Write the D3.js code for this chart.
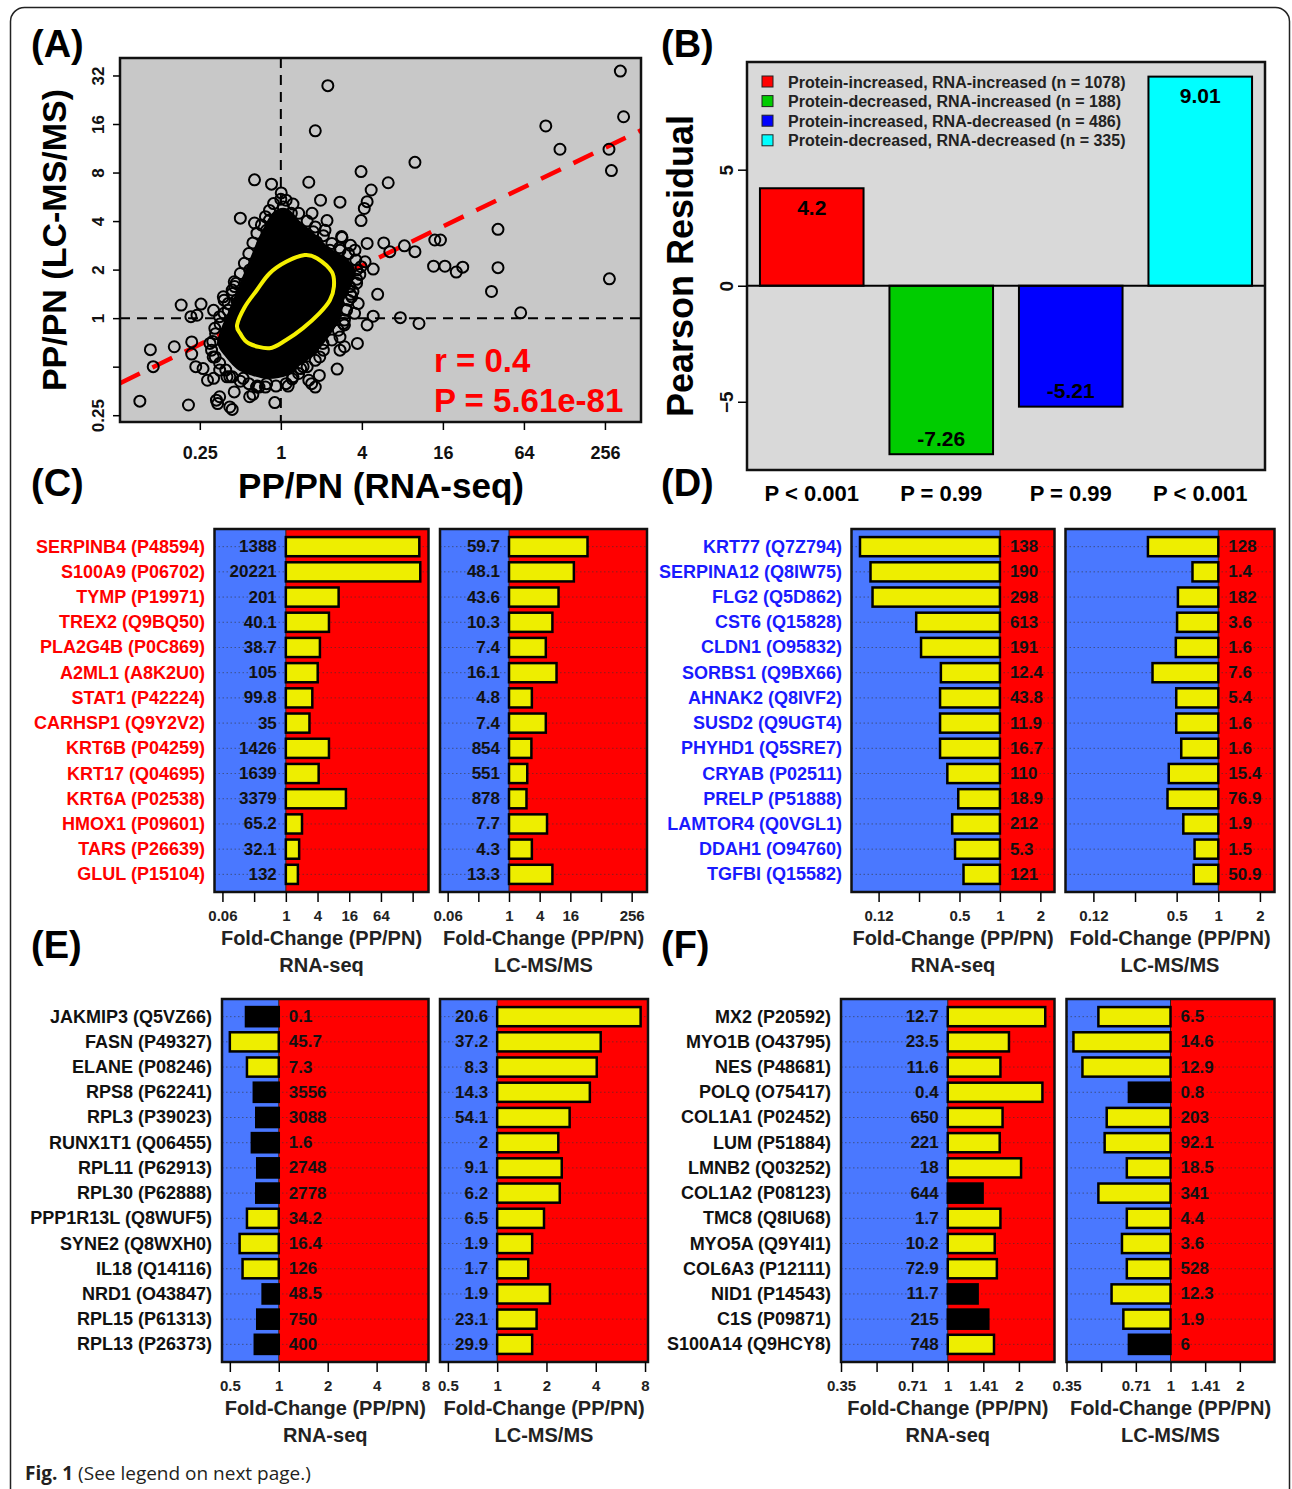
<!DOCTYPE html>
<html>
<head>
<meta charset="utf-8">
<script src="https://cdn.jsdelivr.net/npm/d3@7"></script>
<style>
  body { margin: 0; background: #fff; }
  svg text { font-family: "Liberation Sans", Arial, sans-serif; }
</style>
</head>
<body>
<svg id="fig" width="1292" height="1489"></svg>
<script>
// ---------- (A) scatter, all values are log2(PP/PN) ----------
// [RNA-seq, LC-MS/MS]
const scatterPoints = [
  [8.38,5.09],[1.16,4.79],[8.46,4.15],[0.85,3.86],[6.54,3.96],[6.89,3.48],[8.10,3.48],[8.16,3.04],
  [3.31,3.21],[1.98,3.02],[2.65,2.79],[-0.65,2.85],[-0.23,2.76],[0.69,2.80],[0.01,2.58],[2.23,2.64],
  [0.98,2.43],[1.46,2.39],[2.13,2.40],[2.06,2.26],[1.98,2.01],[0.77,2.16],[1.14,2.01],[-1.00,2.06],
  [-0.65,1.96],[-0.28,2.02],[5.36,1.83],[8.11,0.81],[5.36,1.04],[5.20,0.55],[5.92,0.11],[3.77,1.07],
  [4.05,1.07],[4.33,0.95],[4.49,1.05],[3.80,1.61],[3.94,1.61],[3.31,1.37],[3.05,1.49],[2.69,1.37],
  [2.54,1.55],[2.13,1.54],[1.51,1.66],[1.72,1.50],[2.08,1.16],[2.28,1.01],[1.87,0.80],[2.39,0.49],
  [1.72,0.49],[2.28,0.04],[2.95,0.01],[3.41,-0.11],[2.13,-0.14],[1.82,0.10],[1.57,-0.14],[1.89,-0.52],
  [1.57,-0.59],[1.39,-1.05],[0.95,-1.18],[0.85,-1.42],[0.18,-1.40],[-0.15,-1.74],[-1.20,-1.88],[-1.56,-1.76],
  [-1.51,-1.62],[-2.28,-1.79],[-3.48,-1.71],[-3.15,-1.00],[-3.22,-0.65],[-2.63,-0.59],[-2.20,-0.49],[-2.20,-0.74],
  [-2.10,-1.00],[-1.92,-1.04],[-1.81,-1.28],[-1.66,-1.24],[-1.33,-1.21],[-1.15,-1.52],[-0.69,-1.57],[-0.54,-1.42],
  [0.49,-1.04],[0.69,-1.28],[-2.46,0.27],[-1.97,0.29],[-2.22,0.03],[-2.07,0.06],[-1.66,0.16],[-1.40,0.37],
  [-1.15,0.75],[-1.20,0.58],[0.06,2.29],[0.26,2.16],[0.39,1.88],[0.80,1.78],[0.88,1.57],[1.21,1.40],
  [1.54,1.13],[1.87,0.99],[1.70,0.65],[1.75,0.44],[1.62,0.16],[1.54,-0.11],[1.46,-0.39],[1.04,-0.52],
  [0.96,-0.80],[0.55,-1.00],[0.30,-1.21],[-0.35,-1.35],[-0.60,-1.42],[-0.93,-1.24],[-1.26,-1.21],[-1.51,-1.07],
  [-1.67,-0.80],[-1.75,-0.52],[-1.63,-0.21],[-1.51,0.03],[-1.30,0.16],[-1.09,0.37],[-0.77,0.99],[-0.52,1.23],
  [-0.44,1.55],[-0.35,1.81],[-0.77,-1.62],[-1.26,-1.83],[-1.59,-1.69],[-1.42,0.44],[-1.14,0.65],[1.46,1.40],
  [1.83,1.40],[1.91,0.30],[1.46,-0.66],[0.76,-1.35],[1.09,1.81],[1.50,1.68],
  // circles along the edge of the overplotted core
  [0.13,2.43],[0.44,2.16],[0.85,1.88],[1.26,1.54],[1.67,1.33],[1.98,1.06],[1.87,0.72],[1.67,0.37],
  [1.57,-0.04],[1.26,-0.45],[0.85,-0.87],[0.44,-1.14],[0.13,-1.35],[-0.38,-1.42],[-0.79,-1.35],[-1.20,-1.21],
  [-1.51,-0.93],[-1.71,-0.66],[-1.61,-0.32],[-1.40,0.10],[-1.20,0.51],[-1.00,0.92],[-0.79,1.33],[-0.59,1.75],
  [-0.38,2.09],[-0.18,2.36],[0.30,2.35],[0.65,2.00],[1.05,1.70],[1.45,1.45],[1.85,1.20],[1.95,0.90],
  [1.78,0.55],[1.62,0.18],[1.42,-0.25],[1.05,-0.66],[0.65,-1.00],[0.28,-1.25],[-0.12,-1.40],[-0.58,-1.40],
  [-1.00,-1.30],[-1.36,-1.07],[-1.62,-0.80],[-1.68,-0.48],[-1.50,-0.12],[-1.30,0.30],[-1.10,0.72],[-0.90,1.13],
  [-0.69,1.55],[-0.48,1.92],[-0.28,2.22],[0.00,2.45]
];
// outline of the solid overplotted core
const denseCore = [
  [0.13,2.20],[0.41,1.96],[0.77,1.71],[1.13,1.42],[1.49,1.23],[1.76,0.99],[1.66,0.69],[1.49,0.39],
  [1.40,0.02],[1.13,-0.34],[0.77,-0.71],[0.41,-0.94],[0.13,-1.13],[-0.32,-1.19],[-0.68,-1.13],[-1.04,-1.00],
  [-1.31,-0.76],[-1.49,-0.52],[-1.40,-0.22],[-1.21,0.15],[-1.04,0.51],[-0.86,0.87],[-0.68,1.23],[-0.50,1.60],
  [-0.32,1.90],[-0.14,2.14]
];
// yellow density contour
const contour = [
  [-1.08,-0.14],[-0.89,0.23],[-0.59,0.58],[-0.28,0.92],[0.13,1.16],[0.59,1.30],[0.90,1.23],[1.26,0.95],
  [1.31,0.65],[1.21,0.37],[0.95,0.10],[0.54,-0.21],[0.13,-0.45],[-0.28,-0.62],[-0.79,-0.52],[-1.00,-0.32]
];
const fitLine = [[-3.97,-1.34],[8.89,3.87]];
const statText = ['r = 0.4', 'P = 5.61e-81'];
const aXTicks = [-2, 0, 2, 4, 6, 8];
const aXTickLabels = ['0.25', '1', '4', '16', '64', '256'];
const aYTicks = [-2, -1, 0, 1, 2, 3, 4, 5];
const aYTickLabels = ['0.25', '', '1', '2', '4', '8', '16', '32'];

// ---------- (B) Pearson residuals ----------
const residualGroups = [
  'Protein-increased, RNA-increased (n = 1078)',
  'Protein-decreased, RNA-increased (n = 188)',
  'Protein-increased, RNA-decreased (n = 486)',
  'Protein-decreased, RNA-decreased (n = 335)'
];
const residualValues = [4.2, -7.26, -5.21, 9.01];
const residualColors = ['#ff0000', '#00cc00', '#0000ff', '#00ffff'];
const residualPValues = ['P < 0.001', 'P = 0.99', 'P = 0.99', 'P < 0.001'];
const bYTicks = [-5, 0, 5];

// ---------- (C) ----------
const cGenes = ['SERPINB4 (P48594)','S100A9 (P06702)','TYMP (P19971)','TREX2 (Q9BQ50)','PLA2G4B (P0C869)',
  'A2ML1 (A8K2U0)','STAT1 (P42224)','CARHSP1 (Q9Y2V2)','KRT6B (P04259)','KRT17 (Q04695)','KRT6A (P02538)',
  'HMOX1 (P09601)','TARS (P26639)','GLUL (P15104)'];
const cRnaLog2 = [8.42, 8.48, 3.33, 2.72, 2.15, 2.01, 1.67, 1.49, 2.72, 2.07, 3.79, 1.02, 0.84, 0.76];
const cRnaLabels = ['1388','20221','201','40.1','38.7','105','99.8','35','1426','1639','3379','65.2','32.1','132'];
const cMsLog2 = [5.12, 4.23, 3.23, 2.83, 2.40, 3.10, 1.49, 2.40, 1.46, 1.19, 1.14, 2.48, 1.49, 2.83];
const cMsLabels = ['59.7','48.1','43.6','10.3','7.4','16.1','4.8','7.4','854','551','878','7.7','4.3','13.3'];
const cTicks = [-4, -2, 0, 2, 4, 6, 8];
const cRnaTickLabels = ['0.06', '', '1', '4', '16', '64', ''];
const cMsTickLabels = ['0.06', '', '1', '4', '16', '', '256'];

// ---------- (D) ----------
const dGenes = ['KRT77 (Q7Z794)','SERPINA12 (Q8IW75)','FLG2 (Q5D862)','CST6 (Q15828)','CLDN1 (O95832)',
  'SORBS1 (Q9BX66)','AHNAK2 (Q8IVF2)','SUSD2 (Q9UGT4)','PHYHD1 (Q5SRE7)','CRYAB (P02511)','PRELP (P51888)',
  'LAMTOR4 (Q0VGL1)','DDAH1 (O94760)','TGFBI (Q15582)'];
const dRnaLog2 = [-3.46, -3.20, -3.15, -2.07, -1.95, -1.46, -1.48, -1.48, -1.48, -1.30, -1.03, -1.18, -1.11, -0.90];
const dRnaLabels = ['138','190','298','613','191','12.4','43.8','11.9','16.7','110','18.9','212','5.3','121'];
const dMsLog2 = [-1.69, -0.62, -0.97, -0.99, -1.02, -1.58, -1.01, -1.01, -0.89, -1.19, -1.22, -0.84, -0.57, -0.59];
const dMsLabels = ['128','1.4','182','3.6','1.6','7.6','5.4','1.6','1.6','15.4','76.9','1.9','1.5','50.9'];
const dTicks = [-3, -2, -1, 0, 1];
const dTickLabels = ['0.12', '', '0.5', '1', '2'];

// ---------- (E) ----------
const eGenes = ['JAKMIP3 (Q5VZ66)','FASN (P49327)','ELANE (P08246)','RPS8 (P62241)','RPL3 (P39023)',
  'RUNX1T1 (Q06455)','RPL11 (P62913)','RPL30 (P62888)','PPP1R13L (Q8WUF5)','SYNE2 (Q8WXH0)','IL18 (Q14116)',
  'NRD1 (O43847)','RPL15 (P61313)','RPL13 (P26373)'];
const eRnaLog2 = [-0.67, -1.00, -0.65, -0.51, -0.46, -0.55, -0.44, -0.46, -0.65, -0.80, -0.74, -0.33, -0.44, -0.49];
const eRnaSig = [0, 1, 1, 0, 0, 0, 0, 0, 1, 1, 1, 0, 0, 0];
const eRnaLabels = ['0.1','45.7','7.3','3556','3088','1.6','2748','2778','34.2','16.4','126','48.5','750','400'];
const eMsLog2 = [2.91, 2.10, 2.02, 1.88, 1.47, 1.24, 1.31, 1.27, 0.95, 0.71, 0.63, 1.07, 0.80, 0.71];
const eMsSig = [1, 1, 1, 1, 1, 1, 1, 1, 1, 1, 1, 1, 1, 1];
const eMsLabels = ['20.6','37.2','8.3','14.3','54.1','2','9.1','6.2','6.5','1.9','1.7','1.9','23.1','29.9'];
const eTicks = [-1, 0, 1, 2, 3];
const eTickLabels = ['0.5', '1', '2', '4', '8'];

// ---------- (F) ----------
const fGenes = ['MX2 (P20592)','MYO1B (O43795)','NES (P48681)','POLQ (O75417)','COL1A1 (P02452)',
  'LUM (P51884)','LMNB2 (Q03252)','COL1A2 (P08123)','TMC8 (Q8IU68)','MYO5A (Q9Y4I1)','COL6A3 (P12111)',
  'NID1 (P14543)','C1S (P09871)','S100A14 (Q9HCY8)'];
const fRnaLog2 = [1.37, 0.86, 0.74, 1.33, 0.77, 0.73, 1.03, 0.49, 0.74, 0.66, 0.69, 0.42, 0.57, 0.65];
const fRnaSig = [1, 1, 1, 1, 1, 1, 1, 0, 1, 1, 1, 0, 0, 1];
const fRnaLabels = ['12.7','23.5','11.6','0.4','650','221','18','644','1.7','10.2','72.9','11.7','215','748'];
const fMsLog2 = [-1.04, -1.40, -1.27, -0.60, -0.92, -0.95, -0.63, -1.04, -0.63, -0.70, -0.63, -0.85, -0.68, -0.60];
const fMsSig = [1, 1, 1, 0, 1, 1, 1, 1, 1, 1, 1, 1, 1, 0];
const fMsLabels = ['6.5','14.6','12.9','0.8','203','92.1','18.5','341','4.4','3.6','528','12.3','1.9','6'];
const fTicks = [-1.5, -1, -0.5, 0, 0.5, 1];
const fTickLabels = ['0.35', '', '0.71', '1', '1.41', '2'];

// colours
const blueBg = '#4a78ff';
const redBg = '#ff0000';
const barYellow = '#eeee00';

const svg = d3.select('#fig');

// outer frame
svg.append('rect')
  .attr('x', 10.5).attr('y', 7.5).attr('width', 1279).attr('height', 1530).attr('rx', 14)
  .attr('fill', 'none').attr('stroke', '#222').attr('stroke-width', 1.5);

// panel letters
[['(A)', 31, 44], ['(B)', 661, 44], ['(C)', 31, 483], ['(D)', 661, 483], ['(E)', 31, 945], ['(F)', 661, 945]]
  .forEach(([t, x, y]) => {
    svg.append('text').attr('x', x).attr('y', y).attr('dominant-baseline', 'central')
      .attr('font-size', 38).attr('font-weight', 'bold').text(t);
  });

// ================= panel A =================
function drawScatter() {
  const x = d3.scaleLinear().domain([-3.97, 8.89]).range([120, 641]);
  const y = d3.scaleLinear().domain([-2.14, 5.36]).range([422, 58]);
  const g = svg.append('g');

  g.append('clipPath').attr('id', 'clipA').append('rect')
    .attr('x', 120).attr('y', 58).attr('width', 521).attr('height', 364);
  g.append('rect').attr('x', 120).attr('y', 58).attr('width', 521).attr('height', 364).attr('fill', '#c8c8c8');

  const inner = g.append('g').attr('clip-path', 'url(#clipA)');
  // reference lines at fold-change 1
  inner.append('line').attr('x1', x(0)).attr('x2', x(0)).attr('y1', 58).attr('y2', 422)
    .attr('stroke', '#000').attr('stroke-width', 2).attr('stroke-dasharray', '10,7');
  inner.append('line').attr('x1', 120).attr('x2', 641).attr('y1', y(0)).attr('y2', y(0))
    .attr('stroke', '#000').attr('stroke-width', 2).attr('stroke-dasharray', '10,7');

  // regression line
  inner.append('path').datum(fitLine)
    .attr('d', d3.line().x(d => x(d[0])).y(d => y(d[1])))
    .attr('stroke', '#ff0000').attr('stroke-width', 4.5).attr('stroke-dasharray', '22,14').attr('fill', 'none');

  // dense core
  inner.append('path').datum(denseCore)
    .attr('d', d3.line().curve(d3.curveCardinalClosed).x(d => x(d[0])).y(d => y(d[1])))
    .attr('fill', '#000').attr('stroke', '#000').attr('stroke-width', 6).attr('stroke-linejoin', 'round');

  inner.selectAll('circle').data(scatterPoints).join('circle')
    .attr('cx', d => x(d[0])).attr('cy', d => y(d[1])).attr('r', 5.5)
    .attr('fill', 'none').attr('stroke', '#000').attr('stroke-width', 2);

  inner.append('path').datum(contour)
    .attr('d', d3.line().curve(d3.curveCardinalClosed).x(d => x(d[0])).y(d => y(d[1])))
    .attr('fill', 'none').attr('stroke', '#f5f000').attr('stroke-width', 4);

  g.append('rect').attr('x', 120).attr('y', 58).attr('width', 521).attr('height', 364)
    .attr('fill', 'none').attr('stroke', '#111').attr('stroke-width', 2.5);

  // axes
  const xAxis = g.append('g').attr('transform', 'translate(0,422)')
    .call(d3.axisBottom(x).tickValues(aXTicks).tickFormat((d, i) => aXTickLabels[i]).tickSize(8).tickPadding(16));
  xAxis.select('.domain').remove();
  xAxis.selectAll('line').attr('stroke-width', 1.5);
  xAxis.selectAll('text').attr('font-size', 18).attr('font-weight', 'bold').attr('fill', '#111');

  const yAxis = g.append('g').attr('transform', 'translate(120,0)')
    .call(d3.axisLeft(y).tickValues(aYTicks).tickFormat((d, i) => aYTickLabels[i]).tickSize(7));
  yAxis.select('.domain').remove();
  yAxis.selectAll('line').attr('stroke-width', 1.5);
  yAxis.selectAll('text').attr('transform', 'rotate(-90)').attr('x', 0).attr('y', -16).attr('dy', null)
    .attr('text-anchor', 'middle').attr('font-size', 17).attr('font-weight', 'bold').attr('fill', '#111');

  // statistics
  statText.forEach((t, i) => {
    g.append('text').attr('x', 434).attr('y', 372 + i * 40).attr('font-size', 33).attr('font-weight', 'bold')
      .attr('fill', '#ff0000').text(t);
  });

  // titles
  g.append('text').attr('x', 381).attr('y', 498).attr('text-anchor', 'middle')
    .attr('font-size', 35).attr('font-weight', 'bold').text('PP/PN (RNA-seq)');
  g.append('text').attr('transform', 'translate(66,240) rotate(-90)').attr('text-anchor', 'middle')
    .attr('font-size', 34).attr('font-weight', 'bold').text('PP/PN (LC-MS/MS)');
}

// ================= panel B =================
function drawResiduals() {
  const x = d3.scaleBand().domain(residualGroups).range([747, 1265]).paddingInner(0.2).paddingOuter(0.1);
  const y = d3.scaleLinear().domain([-7.94, 9.64]).range([470, 62]);
  const g = svg.append('g');

  g.append('rect').attr('x', 747).attr('y', 62).attr('width', 518).attr('height', 408).attr('fill', '#d9d9d9');

  g.selectAll('.bar').data(residualGroups).join('rect').attr('class', 'bar')
    .attr('x', d => x(d)).attr('width', x.bandwidth())
    .attr('y', (d, i) => y(Math.max(0, residualValues[i])))
    .attr('height', (d, i) => Math.abs(y(residualValues[i]) - y(0)))
    .attr('fill', (d, i) => residualColors[i]).attr('stroke', '#000').attr('stroke-width', 2);

  g.append('line').attr('x1', 747).attr('x2', 1265).attr('y1', y(0)).attr('y2', y(0))
    .attr('stroke', '#000').attr('stroke-width', 2);

  g.selectAll('.val').data(residualGroups).join('text').attr('class', 'val')
    .attr('x', d => x(d) + x.bandwidth() / 2)
    .attr('y', (d, i) => residualValues[i] > 0 ? y(residualValues[i]) + 19 : y(residualValues[i]) - 16)
    .attr('text-anchor', 'middle').attr('dominant-baseline', 'central')
    .attr('font-size', 21).attr('font-weight', 'bold').text((d, i) => residualValues[i]);

  g.selectAll('.pv').data(residualGroups).join('text').attr('class', 'pv')
    .attr('x', d => x(d) + x.bandwidth() / 2).attr('y', 493)
    .attr('text-anchor', 'middle').attr('dominant-baseline', 'central')
    .attr('font-size', 22).attr('font-weight', 'bold').text((d, i) => residualPValues[i]);

  // legend
  const leg = g.append('g');
  residualGroups.forEach((t, i) => {
    leg.append('rect').attr('x', 762).attr('y', 76 + i * 19.6).attr('width', 11).attr('height', 11)
      .attr('fill', residualColors[i]).attr('stroke', '#222').attr('stroke-width', 1);
    leg.append('text').attr('x', 788).attr('y', 82 + i * 19.6).attr('dominant-baseline', 'central')
      .attr('font-size', 16).attr('font-weight', 'bold').attr('fill', '#222').text(t);
  });

  g.append('rect').attr('x', 747).attr('y', 62).attr('width', 518).attr('height', 408)
    .attr('fill', 'none').attr('stroke', '#111').attr('stroke-width', 2.5);

  const yAxis = g.append('g').attr('transform', 'translate(747,0)')
    .call(d3.axisLeft(y).tickValues(bYTicks).tickSize(9));
  yAxis.select('.domain').remove();
  yAxis.selectAll('line').attr('stroke-width', 1.5);
  yAxis.selectAll('text').attr('transform', 'rotate(-90)').attr('x', 0).attr('y', -14).attr('dy', null)
    .attr('text-anchor', 'middle').attr('font-size', 19).attr('font-weight', 'bold').attr('fill', '#111');

  g.append('text').attr('transform', 'translate(693,266) rotate(-90)').attr('text-anchor', 'middle')
    .attr('font-size', 36).attr('font-weight', 'bold').text('Pearson Residual');
}

// ================= panels C-F =================
function barPanel(cfg) {
  const y = d3.scaleBand().domain(cfg.genes).range([cfg.top, cfg.bottom]).paddingInner(0.24).paddingOuter(0.32);
  const mid = d => y(d) + y.bandwidth() / 2;
  const g = svg.append('g');

  g.selectAll('.gene').data(cfg.genes).join('text').attr('class', 'gene')
    .attr('x', cfg.nameRight).attr('y', mid)
    .attr('text-anchor', 'end').attr('dominant-baseline', 'central')
    .attr('font-size', 18).attr('font-weight', 'bold').attr('fill', cfg.nameColor).text(d => d);

  cfg.boxes.forEach(b => {
    const x = d3.scaleLinear().domain(cfg.domain).range([b.x0, b.x1]);
    const h = cfg.bottom - cfg.top;
    const bg = g.append('g');
    bg.append('rect').attr('x', b.x0).attr('y', cfg.top).attr('width', x(0) - b.x0).attr('height', h).attr('fill', blueBg);
    bg.append('rect').attr('x', x(0)).attr('y', cfg.top).attr('width', b.x1 - x(0)).attr('height', h).attr('fill', redBg);
    bg.append('line').attr('x1', x(0)).attr('x2', x(0)).attr('y1', cfg.top).attr('y2', cfg.bottom)
      .attr('stroke', '#222').attr('stroke-width', 1);

    bg.selectAll('.grid').data(cfg.genes).join('line').attr('class', 'grid')
      .attr('x1', b.x0).attr('x2', b.x1).attr('y1', mid).attr('y2', mid)
      .attr('stroke', '#333').attr('stroke-width', 0.8).attr('stroke-dasharray', '1.5,2.5').attr('opacity', 0.7);

    bg.selectAll('.bar').data(cfg.genes).join('rect').attr('class', 'bar')
      .attr('x', (d, i) => Math.min(x(0), x(b.values[i])))
      .attr('width', (d, i) => Math.abs(x(b.values[i]) - x(0)))
      .attr('y', d => y(d)).attr('height', y.bandwidth())
      .attr('fill', (d, i) => (b.sig ? b.sig[i] : 1) ? barYellow : '#000')
      .attr('stroke', '#000').attr('stroke-width', 2.5);

    bg.selectAll('.val').data(cfg.genes).join('text').attr('class', 'val')
      .attr('x', (d, i) => b.values[i] > 0 ? x(0) - 9 : x(0) + 10)
      .attr('y', mid).attr('dominant-baseline', 'central')
      .attr('text-anchor', (d, i) => b.values[i] > 0 ? 'end' : 'start')
      .attr('font-size', 17).attr('font-weight', 'bold').attr('fill', '#111').text((d, i) => b.labels[i]);

    bg.append('rect').attr('x', b.x0).attr('y', cfg.top).attr('width', b.x1 - b.x0).attr('height', h)
      .attr('fill', 'none').attr('stroke', '#111').attr('stroke-width', 2.5);

    const ax = bg.append('g').attr('transform', `translate(0,${cfg.bottom})`)
      .call(d3.axisBottom(x).tickValues(cfg.ticks).tickFormat((d, i) => b.tickLabels[i]).tickSize(10).tickPadding(8));
    ax.select('.domain').remove();
    ax.selectAll('line').attr('stroke-width', 1.5);
    ax.selectAll('text').attr('font-size', 15).attr('font-weight', 'bold').attr('fill', '#222');

    const cx = (b.x0 + b.x1) / 2;
    bg.append('text').attr('x', cx).attr('y', cfg.bottom + 46).attr('text-anchor', 'middle')
      .attr('dominant-baseline', 'central').attr('font-size', 20).attr('font-weight', 'bold').attr('fill', '#222')
      .text('Fold-Change (PP/PN)');
    bg.append('text').attr('x', cx).attr('y', cfg.bottom + 73).attr('text-anchor', 'middle')
      .attr('dominant-baseline', 'central').attr('font-size', 20).attr('font-weight', 'bold').attr('fill', '#222')
      .text(b.title);
  });
}

drawScatter();
drawResiduals();

barPanel({
  genes: cGenes, nameColor: '#ff0000', nameRight: 205, top: 529, bottom: 892,
  domain: [-4.5, 9.0], ticks: cTicks,
  boxes: [
    { x0: 214.5, x1: 428.5, values: cRnaLog2, labels: cRnaLabels, tickLabels: cRnaTickLabels, title: 'RNA-seq' },
    { x0: 440, x1: 647, values: cMsLog2, labels: cMsLabels, tickLabels: cMsTickLabels, title: 'LC-MS/MS' }
  ]
});

barPanel({
  genes: dGenes, nameColor: '#1a1aff', nameRight: 842, top: 529, bottom: 892,
  domain: [-3.67, 1.35], ticks: dTicks,
  boxes: [
    { x0: 851.5, x1: 1054.5, values: dRnaLog2, labels: dRnaLabels, tickLabels: dTickLabels, title: 'RNA-seq' },
    { x0: 1065.5, x1: 1274.5, values: dMsLog2, labels: dMsLabels, tickLabels: dTickLabels, title: 'LC-MS/MS' }
  ]
});

barPanel({
  genes: eGenes, nameColor: '#111', nameRight: 212, top: 999, bottom: 1362,
  domain: [-1.16, 3.06], ticks: eTicks,
  boxes: [
    { x0: 222, x1: 428.5, values: eRnaLog2, sig: eRnaSig, labels: eRnaLabels, tickLabels: eTickLabels, title: 'RNA-seq' },
    { x0: 440, x1: 648, values: eMsLog2, sig: eMsSig, labels: eMsLabels, tickLabels: eTickLabels, title: 'LC-MS/MS' }
  ]
});

barPanel({
  genes: fGenes, nameColor: '#111', nameRight: 831, top: 999, bottom: 1362,
  domain: [-1.5, 1.5], ticks: fTicks,
  boxes: [
    { x0: 841, x1: 1054.5, values: fRnaLog2, sig: fRnaSig, labels: fRnaLabels, tickLabels: fTickLabels, title: 'RNA-seq' },
    { x0: 1066.5, x1: 1274.5, values: fMsLog2, sig: fMsSig, labels: fMsLabels, tickLabels: fTickLabels, title: 'LC-MS/MS' }
  ]
});

// caption
const cap = svg.append('text').attr('x', 25).attr('y', 1480)
  .attr('font-size', 19).attr('fill', '#231f20').style('font-family', '"Open Sans", "Noto Sans", sans-serif');
cap.append('tspan').attr('font-weight', 'bold').text('Fig. 1');
cap.append('tspan').text(' (See legend on next page.)');
</script>
</body>
</html>
